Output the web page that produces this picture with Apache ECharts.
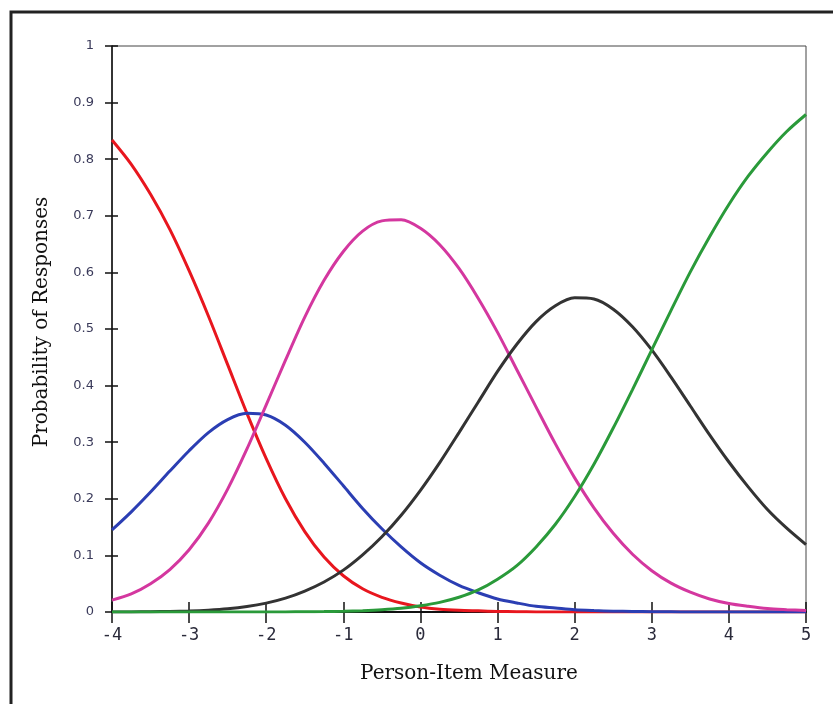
<!DOCTYPE html>
<html>
<head>
<meta charset="utf-8">
<script src="https://cdn.jsdelivr.net/npm/echarts@6/dist/echarts.min.js"></script>
<style>html,body{margin:0;padding:0;background:#fff;}#c{width:833px;height:704px;}</style>
</head>
<body>
<div id="c"></div>
<script>
var measures = [-4,-3.75,-3.5,-3.25,-3,-2.75,-2.5,-2.25,-2,-1.75,-1.5,-1.25,-1,-0.75,-0.5,-0.25,0,0.25,0.5,0.75,1,1.25,1.5,1.75,2,2.25,2.5,2.75,3,3.25,3.5,3.75,4,4.25,4.5,4.75,5];
var cat0 = [0.834,0.791,0.738,0.676,0.603,0.523,0.437,0.351,0.271,0.200,0.142,0.097,0.064,0.041,0.026,0.016,0.009,0.005,0.003,0.002,0.001,0.0005,0.0002,0.0001,0,0,0,0,0,0,0,0,0,0,0,0,0];
var cat1 = [0.145,0.177,0.212,0.249,0.285,0.317,0.340,0.351,0.348,0.330,0.300,0.263,0.223,0.183,0.147,0.115,0.087,0.065,0.047,0.034,0.023,0.016,0.010,0.007,0.004,0.0025,0.0015,0.0009,0.0005,0.0003,0.0001,0,0,0,0,0,0];
var cat2 = [0.021,0.032,0.050,0.075,0.110,0.157,0.217,0.288,0.366,0.445,0.521,0.586,0.637,0.673,0.691,0.693,0.678,0.649,0.607,0.554,0.494,0.428,0.362,0.297,0.237,0.184,0.139,0.102,0.073,0.051,0.035,0.023,0.015,0.010,0.006,0.004,0.0025];
var cat3 = [0.0001,0.0002,0.0005,0.0009,0.0017,0.0032,0.0056,0.0096,0.0157,0.0245,0.037,0.053,0.074,0.101,0.133,0.171,0.215,0.264,0.317,0.371,0.425,0.473,0.513,0.541,0.555,0.553,0.535,0.504,0.463,0.415,0.364,0.313,0.265,0.221,0.181,0.148,0.119];
var cat4 = [0,0,0,0,0,0,0,0.0001,0.0001,0.0002,0.0004,0.0008,0.0014,0.0024,0.004,0.0066,0.011,0.017,0.026,0.039,0.058,0.082,0.115,0.155,0.204,0.261,0.325,0.393,0.463,0.533,0.601,0.663,0.720,0.770,0.812,0.849,0.879];
var xTitle = 'Person-Item Measure';
var yTitle = 'Probability of Responses';

function pairs(v){ return measures.map(function(x,i){ return [x, v[i]]; }); }
var colors = ['#e8161e','#2b3eb3','#d4379f','#333333','#2a9a3a'];
var cats = [cat0,cat1,cat2,cat3,cat4];
var order = [3,4,1,2,0];
var series = order.map(function(k){
  return {type:'line', xAxisIndex:0, yAxisIndex:0, data:pairs(cats[k]), smooth:0.3, showSymbol:false, symbol:'none',
    lineStyle:{color:colors[k], width:3}, itemStyle:{color:colors[k]}, z:2+k, animation:false};
});

var chart = echarts.init(document.getElementById('c'));
chart.setOption({
  animation:false,
  backgroundColor:'#fff',
  grid:{left:112, right:27, top:46, bottom:92, show:true, borderColor:'#444', borderWidth:1, backgroundColor:'transparent'},
  xAxis:[{
    type:'value', min:-4, max:5, interval:1, position:'bottom',
    axisLine:{onZero:false, lineStyle:{color:'#111', width:2}},
    axisTick:{show:true, inside:false, length:11, lineStyle:{color:'#111', width:1.5}},
    axisLabel:{margin:15, color:'#2a2a3a', fontFamily:'DejaVu Sans Mono', fontSize:17},
    splitLine:{show:false}
  },{
    type:'value', min:-4, max:5, interval:1, position:'bottom', offset:0,
    axisLine:{show:false, onZero:false},
    axisTick:{show:true, inside:true, length:10, lineStyle:{color:'#111', width:1.5}},
    axisLabel:{show:false}, splitLine:{show:false}
  }],
  yAxis:[{
    type:'value', min:0, max:1, interval:0.1, position:'left',
    axisLine:{onZero:false, lineStyle:{color:'#111', width:1.5}},
    axisTick:{show:true, inside:false, length:7, lineStyle:{color:'#111', width:1.5}},
    axisLabel:{margin:18, color:'#3a3a5a', fontFamily:'DejaVu Sans', fontSize:13},
    splitLine:{show:false}
  },{
    type:'value', min:0, max:1, interval:0.1, position:'left', offset:0,
    axisLine:{show:false, onZero:false},
    axisTick:{show:true, inside:true, length:6, lineStyle:{color:'#111', width:1.5}},
    axisLabel:{show:false}, splitLine:{show:false}
  }],
  series:series,
  graphic:[
    {type:'rect', shape:{x:11, y:12, width:900, height:800}, style:{fill:'none', stroke:'#222', lineWidth:3}, silent:true},
    {type:'text', x:469, y:674, style:{text:xTitle, font:'20px "DejaVu Serif"', fill:'#111', textAlign:'center', textVerticalAlign:'middle'}},
    {type:'text', x:42, y:322, rotation:Math.PI/2, style:{text:yTitle, font:'20px "DejaVu Serif"', fill:'#111', textAlign:'center', textVerticalAlign:'middle'}}
  ]
});
</script>
</body>
</html>
